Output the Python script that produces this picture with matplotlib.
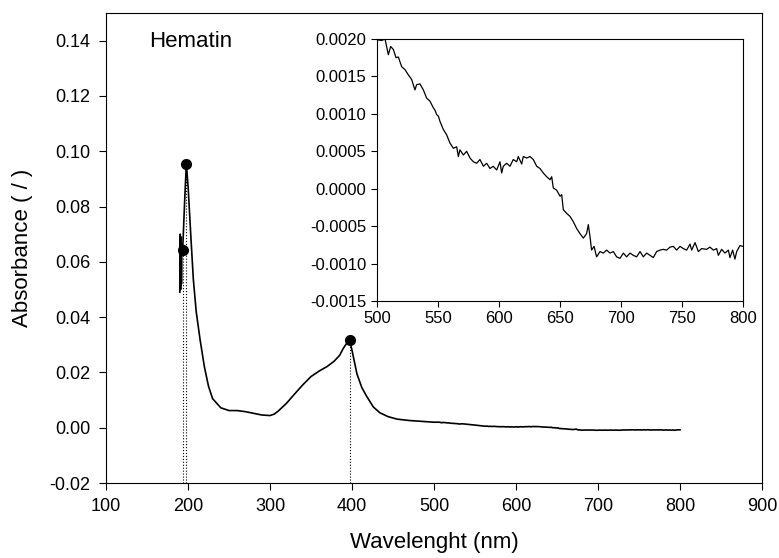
import matplotlib
matplotlib.use("Agg")
import matplotlib.pyplot as plt
import numpy as np
from matplotlib.ticker import FormatStrFormatter

plt.rcParams["font.family"] = ["Liberation Sans", "DejaVu Sans"]

# main spectrum, UV part (nm, absorbance)
main_wl = [190, 190.5, 191, 191.5, 192, 192.5, 193.5, 194.5, 195.5, 196.5, 197.5, 198,
           200.3, 203.7, 206.5, 210, 214.7, 220, 225, 230, 240, 250, 260, 270, 280, 290,
           300, 305, 310, 320, 330, 340, 350, 360, 370, 378, 385, 389, 393, 396, 397,
           400, 406, 412, 418, 426, 434, 444, 455, 470, 485, 497]
main_abs = [0.049, 0.070, 0.050, 0.069, 0.052, 0.066, 0.0642, 0.072, 0.079, 0.086, 0.092, 0.0955,
            0.0863, 0.068, 0.0537, 0.042, 0.0319, 0.022, 0.015, 0.0105, 0.0072, 0.0062, 0.0062,
            0.0058, 0.0052, 0.0046, 0.0044, 0.0049, 0.0060, 0.0088, 0.0122, 0.0155, 0.0185,
            0.0205, 0.0222, 0.0240, 0.0262, 0.0285, 0.0303, 0.0315, 0.0318, 0.0280, 0.0195,
            0.0145, 0.0113, 0.0075, 0.0054, 0.0040, 0.0031, 0.0026, 0.0023, 0.0021]

# inset detail, 500-800 nm
inset_wl = [500.0, 503.8, 506.6, 509.3, 511.2, 513.4, 515.6, 517.5, 520.2, 523.0, 525.7, 528.4,
            531.1, 532.5, 535.2, 538.0, 540.7, 543.4, 546.2, 547.5, 548.9, 550.3, 551.6, 554.4,
            557.1, 559.8, 562.6, 565.3, 566.7, 568.0, 570.8, 573.5, 576.2, 579.0, 581.7, 584.4,
            587.2, 589.9, 592.6, 595.3, 598.1, 600.8, 602.2, 603.5, 606.3, 609.0, 611.7, 614.5,
            615.8, 618.6, 619.9, 622.7, 625.4, 628.1, 630.9, 633.6, 636.3, 639.1, 641.8, 643.2,
            644.5, 647.3, 650.0, 651.4, 652.7, 655.5, 658.2, 660.9, 663.6, 666.4, 669.1, 671.8,
            673.2, 674.6, 675.9, 677.9, 680.0, 682.8, 685.5, 688.2, 691.0, 693.7, 696.4, 699.2,
            701.9, 704.6, 707.4, 710.1, 712.8, 715.6, 718.3, 721.0, 723.8, 726.5, 729.2, 732.0,
            734.7, 737.4, 740.2, 742.9, 745.6, 748.4, 751.1, 753.8, 756.6, 757.9, 760.7, 763.4,
            766.1, 770.2, 772.9, 775.7, 778.4, 779.8, 782.5, 785.2, 788.0, 789.3, 791.5, 793.4,
            794.8, 797.5, 800.0]
inset_abs = [0.00199, 0.00198, 0.00200, 0.00179, 0.00190, 0.00186, 0.00175, 0.00176, 0.00163,
             0.00159, 0.00152, 0.00146, 0.00132, 0.00139, 0.00140, 0.00132, 0.00121, 0.00117,
             0.00108, 0.00105, 0.00099, 0.00097, 0.00090, 0.00079, 0.00072, 0.00061, 0.00054,
             0.00056, 0.00043, 0.00052, 0.00045, 0.00050, 0.00041, 0.00036, 0.00034, 0.00039,
             0.00030, 0.00034, 0.00027, 0.00030, 0.00025, 0.00036, 0.00021, 0.00030, 0.00034,
             0.00030, 0.00039, 0.00036, 0.00043, 0.00033, 0.00043, 0.00041, 0.00043, 0.00039,
             0.00030, 0.00027, 0.00021, 0.00016, 0.00012, 0.00016, 0.00001, -0.00002, -0.00010,
             -0.00008, -0.00028, -0.00033, -0.00037, -0.00044, -0.00053, -0.00060, -0.00066,
             -0.00060, -0.00048, -0.00064, -0.00082, -0.00077, -0.00091, -0.00084, -0.00086,
             -0.00082, -0.00086, -0.00084, -0.00091, -0.00093, -0.00086, -0.00091, -0.00086,
             -0.00089, -0.00091, -0.00084, -0.00091, -0.00086, -0.00089, -0.00092, -0.00084,
             -0.00082, -0.00081, -0.00082, -0.00078, -0.00077, -0.00082, -0.00077, -0.00080,
             -0.00082, -0.00074, -0.00082, -0.00072, -0.00084, -0.00080, -0.00081, -0.00078,
             -0.00082, -0.00080, -0.00089, -0.00081, -0.00086, -0.00082, -0.00092, -0.00082,
             -0.00094, -0.00084, -0.00076, -0.00077]

peak_wl = [193.5, 198, 397]
peak_abs = [0.0642, 0.0955, 0.0318]

fig = plt.figure(figsize=(7.79, 5.58), dpi=100)
ax = fig.add_axes([106 / 779, 75 / 558, 656 / 779, 470 / 558])

ax.plot(main_wl + inset_wl, main_abs + inset_abs, color="black", lw=1.2)
ax.vlines(peak_wl, -0.02, peak_abs, colors="black", linestyles=":", lw=0.8)
ax.plot(peak_wl, peak_abs, "o", color="black", ms=7)
ax.text(153, 0.1397, "Hematin", fontsize=16, ha="left", va="center")

ax.set_xlim(100, 900)
ax.set_ylim(-0.02, 0.15)
ax.set_xticks(np.arange(100, 901, 100))
ax.set_yticks(np.arange(-0.02, 0.141, 0.02))
ax.yaxis.set_major_formatter(FormatStrFormatter("%.2f"))
ax.tick_params(direction="out", length=5, labelsize=13, pad=6)
ax.set_xlabel("Wavelenght (nm)", fontsize=16, labelpad=12)
ax.set_ylabel("Absorbance ( / )", fontsize=16, labelpad=12)

ins = fig.add_axes([377 / 779, 257 / 558, 366 / 779, 262 / 558])
ins.plot(inset_wl, inset_abs, color="black", lw=0.9)
ins.set_xlim(500, 800)
ins.set_ylim(-0.0015, 0.0020)
ins.set_xticks(np.arange(500, 801, 50))
ins.set_yticks(np.arange(-0.0015, 0.00201, 0.0005))
ins.yaxis.set_major_formatter(FormatStrFormatter("%.4f"))
ins.tick_params(direction="out", length=4, labelsize=12)

fig.savefig("out.png", dpi=100)
